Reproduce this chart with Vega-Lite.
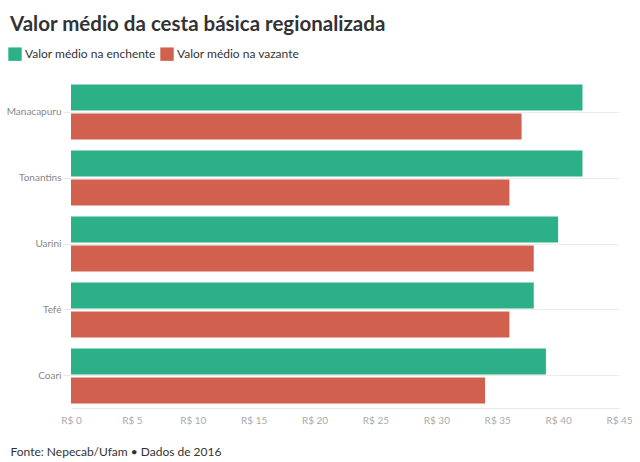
{
  "$schema": "https://vega.github.io/schema/vega-lite/v6.json",
  "autosize": {"type": "none"},
  "width": 548,
  "height": 328,
  "padding": {"left": 71, "top": 80, "right": 21, "bottom": 54},
  "background": "#ffffff",
  "title": {
    "text": "Valor médio da cesta básica regionalizada",
    "anchor": "start",
    "frame": "group",
    "dx": -61,
    "offset": 12,
    "font": "Lato",
    "fontSize": 20.5,
    "fontWeight": "bold",
    "color": "#333333"
  },
  "config": {
    "font": "Lato",
    "view": {"stroke": null}
  },
  "data": {
    "values": [
      {"cidade": "Manacapuru", "serie": "Valor médio na enchente", "valor": 42},
      {"cidade": "Manacapuru", "serie": "Valor médio na vazante", "valor": 37},
      {"cidade": "Tonantins", "serie": "Valor médio na enchente", "valor": 42},
      {"cidade": "Tonantins", "serie": "Valor médio na vazante", "valor": 36},
      {"cidade": "Uarini", "serie": "Valor médio na enchente", "valor": 40},
      {"cidade": "Uarini", "serie": "Valor médio na vazante", "valor": 38},
      {"cidade": "Tefé", "serie": "Valor médio na enchente", "valor": 38},
      {"cidade": "Tefé", "serie": "Valor médio na vazante", "valor": 36},
      {"cidade": "Coari", "serie": "Valor médio na enchente", "valor": 39},
      {"cidade": "Coari", "serie": "Valor médio na vazante", "valor": 34}
    ]
  },
  "mark": {"type": "bar"},
  "encoding": {
    "y": {
      "field": "cidade",
      "type": "nominal",
      "sort": ["Manacapuru", "Tonantins", "Uarini", "Tefé", "Coari"],
      "scale": {"paddingInner": 0.17, "paddingOuter": 0.07},
      "axis": {
        "title": null,
        "domain": false,
        "ticks": true,
        "tickSize": 8,
        "tickColor": "#e8e8e8",
        "grid": true,
        "bandPosition": 0.5,
        "gridColor": "#ececec",
        "labelPadding": 2,
        "labelColor": "#888888",
        "labelFontSize": 10
      }
    },
    "yOffset": {
      "field": "serie",
      "type": "nominal",
      "scale": {"paddingInner": 0.1}
    },
    "x": {
      "field": "valor",
      "type": "quantitative",
      "scale": {"domain": [0, 45], "nice": false},
      "axis": {
        "values": [0, 5, 10, 15, 20, 25, 30, 35, 40, 45],
        "labelExpr": "'R$ ' + datum.value",
        "grid": false,
        "ticks": false,
        "domain": true,
        "domainColor": "#e8e8e8",
        "labelFlush": false,
        "labelPadding": 7,
        "labelColor": "#aaaaaa",
        "labelFontSize": 10,
        "title": "Fonte: Nepecab/Ufam • Dados de 2016",
        "titleX": -61,
        "titleY": 38,
        "titleAlign": "left",
        "titleBaseline": "top",
        "titleFont": "Lato",
        "titleFontSize": 12,
        "titleFontWeight": "normal",
        "titleColor": "#333333"
      }
    },
    "color": {
      "field": "serie",
      "type": "nominal",
      "scale": {
        "domain": ["Valor médio na enchente", "Valor médio na vazante"],
        "range": ["#2bb088", "#d2604f"]
      },
      "legend": {
        "title": null,
        "orient": "none",
        "legendX": -63,
        "legendY": -33,
        "direction": "horizontal",
        "symbolType": "square",
        "symbolSize": 180,
        "symbolStrokeWidth": 0,
        "labelFontSize": 12,
        "labelColor": "#333333",
        "labelOffset": 3,
        "columnPadding": 4,
        "labelLimit": 300
      }
    }
  }
}
